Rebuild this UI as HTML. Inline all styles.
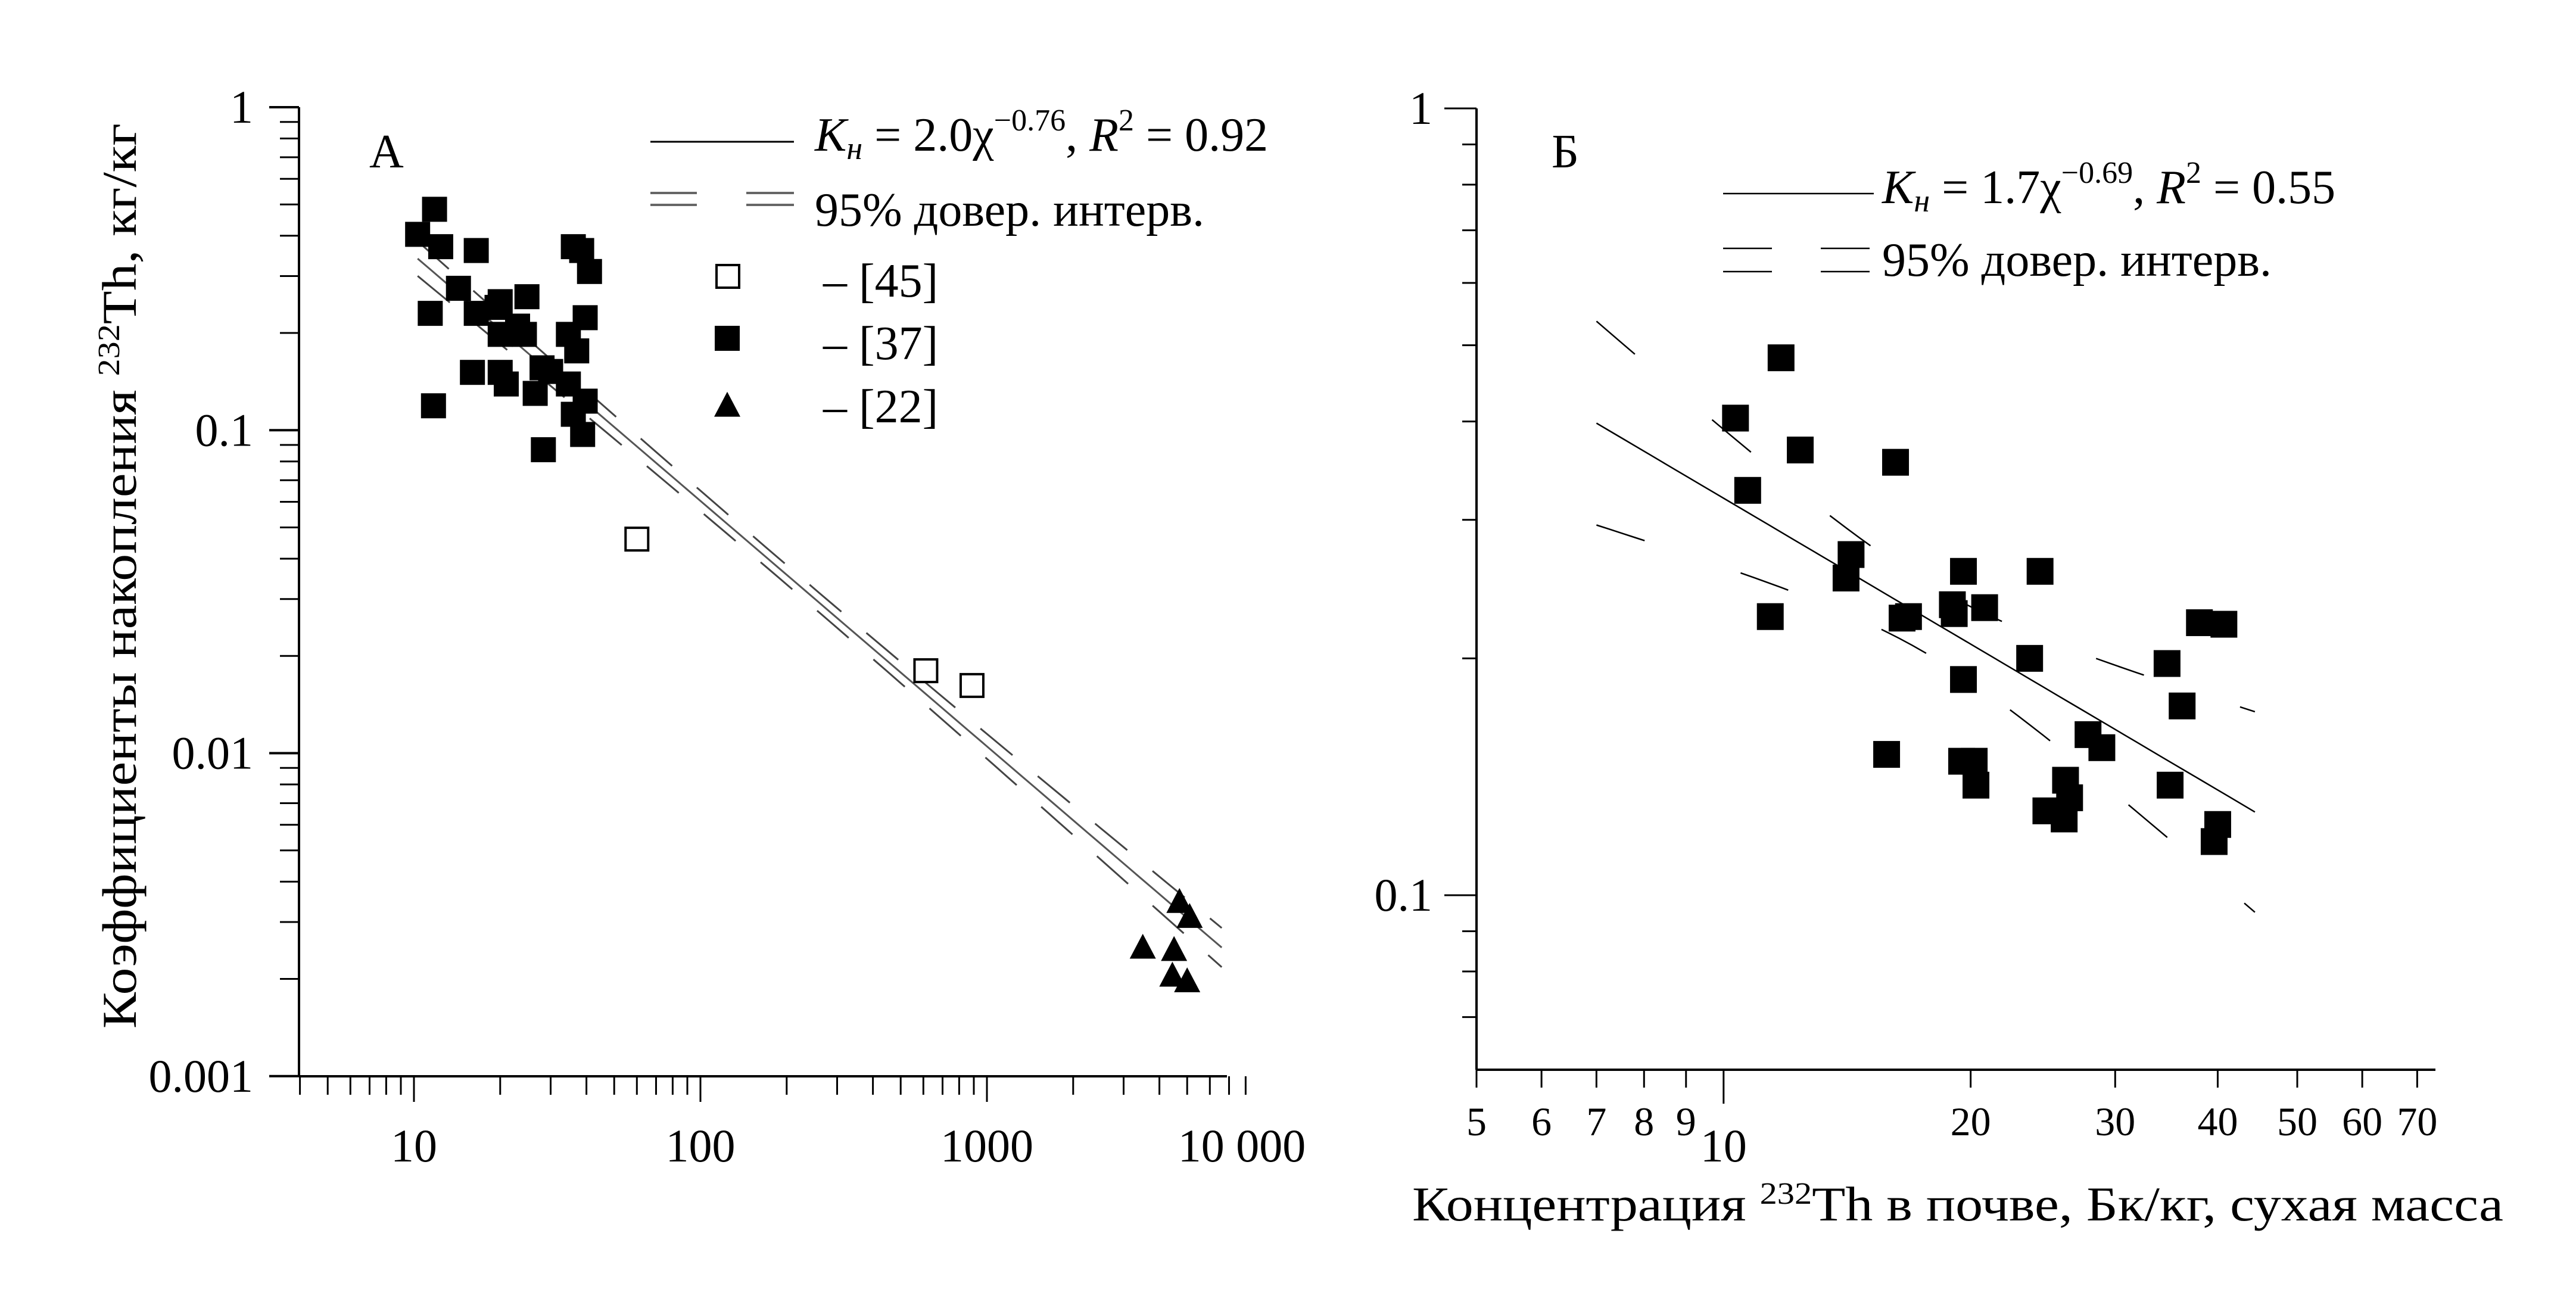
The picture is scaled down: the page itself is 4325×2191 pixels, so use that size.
<!DOCTYPE html>
<html><head><meta charset="utf-8"><style>
html,body{margin:0;padding:0;background:#fff}
svg{display:block}
text,tspan{font-family:"Liberation Serif",serif;fill:#000}
</style></head><body>
<svg id="fig" width="4325" height="2191" viewBox="0 0 4325 2191" xmlns="http://www.w3.org/2000/svg" font-family="Liberation Serif, serif">
<g id="pa"></g>
<g id="pb"></g>
</svg>
<script>
// Panel A data
const aSq37X = [10.3,11.8,12.4,11.4,11.7,14.3,16.5,16.5,16.0,20,20,20,21,24.8,24.3,26.5,28,28.3,30,36,38.5,41,39.6,34.6,37,34.6,39.6,36,38.8,23,19.5];
const aSq37Y = [0.404,0.483,0.37,0.23,0.119,0.275,0.36,0.23,0.151,0.25,0.198,0.151,0.139,0.259,0.198,0.13,0.156,0.087,0.152,0.37,0.36,0.31,0.223,0.198,0.176,0.139,0.123,0.112,0.097,0.21,0.24];
const aOpen45X = [60,612,887];
const aOpen45Y = [0.046,0.018,0.0162];
const aTri22X = [3500,4500,4440,5000,4700,5100];
const aTri22Y = [0.00249,0.00245,0.00204,0.00196,0.00345,0.0031];
const aFit = [2.0,-0.76];
const aXTickLabels = ["10","100","1000","10 000"];
const aXTickValues = [10,100,1000,10000];
const aYTickLabels = ["1","0.1","0.01","0.001"];
const aYTickValues = [1,0.1,0.01,0.001];
// Panel B data
const bX = [10.34,11.75,12.4,10.7,11.4,14.3,14.1,16.2,15.8,16.5,16.8,19.6,19.0,19.1,20.8,19.6,19.5,20.2,20.3,24.3,23.6,26.1,26.4,24.7,26.0,27.8,28.9,34.7,36.2,35.0,38.0,40.7,40.0,39.6];
const bY = [0.404,0.482,0.368,0.327,0.226,0.271,0.253,0.355,0.151,0.225,0.226,0.258,0.234,0.228,0.232,0.188,0.148,0.148,0.138,0.258,0.2,0.14,0.133,0.128,0.125,0.16,0.154,0.197,0.174,0.138,0.222,0.221,0.123,0.117];
const bFit = [1.32,-0.616];
const bXTickLabels = ["5","6","7","8","9","10","20","30","40","50","60","70"];
const bXTickValues = [5,6,7,8,9,10,20,30,40,50,60,70];
const bYTickLabels = ["1","0.1"];
const bYTickValues = [1,0.1];

const NS="http://www.w3.org/2000/svg";
function mk(parent,tag,attrs){const e=document.createElementNS(NS,tag);if(tag==='text')e.setAttribute('font-family','Liberation Serif, serif');for(const k in attrs)e.setAttribute(k,attrs[k]);parent.appendChild(e);return e;}
const L=Math.log10;

// ---------- Panel A ----------
const pa=document.getElementById('pa');
const AX=v=>695+(L(v)-1)*481;
const AY=v=>180-L(v)*542.25;
const aLeft=502,aBottom=1807,aRight=2060;
let e;
e=mk(pa,'line',{x1:aLeft,y1:180,x2:aLeft,y2:aBottom,stroke:'#000','stroke-width':4});


e=mk(pa,'line',{x1:aLeft,y1:aBottom,x2:aRight,y2:aBottom,stroke:'#000','stroke-width':4});


for(let d=-3;d<=0;d++){
  for(let m=1;m<=9;m++){
    const v=m*Math.pow(10,d); if(v>1.0001||(d===0&&m>1))continue;
    const y=AY(v);
    e=mk(pa,'line',{x1:m===1?452:470,y1:y,x2:aLeft,y2:y,stroke:'#000','stroke-width':m===1?4:3});
    
    
  }
}
for(let d=0;d<=3;d++){
  for(let m=1;m<=9;m++){
    const v=m*Math.pow(10,d); if(v<4||v>8600)continue;
    const x=AX(v);
    e=mk(pa,'line',{x1:x,y1:aBottom,x2:x,y2:m===1?1850:1838,stroke:'#000','stroke-width':3});
    
    
  }
}
aYTickValues.forEach((v,i)=>{
  e=mk(pa,'text',{x:425,y:AY(v)+26,'text-anchor':'end','font-size':78});
  e.textContent=aYTickLabels[i];
  
  
});
aXTickValues.forEach((v,i)=>{
  e=mk(pa,'text',{x:i===3?2085:AX(v),y:1950,'text-anchor':'middle','font-size':78});
  e.textContent=aXTickLabels[i];
  
  
});
e=mk(pa,'text',{x:0,y:0,transform:'translate(228,967) rotate(-90)','text-anchor':'middle','font-size':82,textLength:1520,lengthAdjust:'spacingAndGlyphs'});
e.innerHTML='Коэффициенты накопления <tspan dy="-28" font-size="52">232</tspan><tspan dy="28">Th, кг/кг</tspan>';


e=mk(pa,'text',{x:620,y:281,'font-size':80});e.textContent='A';



function pathFrom(xs,fx,fy){return xs.map((x,i)=>(i?'L':'M')+fx(x).toFixed(1)+' '+fy(x).toFixed(1)).join(' ');}
function range(a,b,n){const r=[];for(let i=0;i<=n;i++)r.push(Math.pow(10,L(a)+(L(b)-L(a))*i/n));return r;}
const aXs=range(10.3,6600,60);
const aFitF=x=>aFit[0]*Math.pow(x,aFit[1]);
const aD=x=>Math.sqrt(0.03*0.03+0.0012*Math.pow(L(x)-2.3,2));
e=mk(pa,'path',{d:pathFrom(aXs,AX,x=>AY(aFitF(x))),fill:'none',stroke:'#555','stroke-width':3});


[1,-1].forEach(s=>{
  e=mk(pa,'path',{d:pathFrom(aXs,AX,x=>AY(aFitF(x)*Math.pow(10,s*aD(x)))),fill:'none',stroke:'#444','stroke-width':3,'stroke-dasharray':'70 55'});
  
  
});
const S=42;
aSq37X.forEach((x,i)=>{
  e=mk(pa,'rect',{x:AX(x)-S/2,y:AY(aSq37Y[i])-S/2,width:S,height:S,fill:'#000'});
  
  
});
aOpen45X.forEach((x,i)=>{
  e=mk(pa,'rect',{x:AX(x)-19,y:AY(aOpen45Y[i])-19,width:38,height:38,fill:'#fff',stroke:'#000','stroke-width':4});
  
  
});
function tri(g,cx,cy,s){return mk(g,'polygon',{points:`${cx},${cy-s*0.55} ${cx-s/2},${cy+s*0.4} ${cx+s/2},${cy+s*0.4}`,fill:'#000'});}
aTri22X.forEach((x,i)=>{
  e=tri(pa,AX(x),AY(aTri22Y[i]),44);
  
  
});
// legend A
const lgA=mk(pa,'g',{});


e=mk(lgA,'line',{x1:1092,y1:238,x2:1333,y2:238,stroke:'#000','stroke-width':3});


e=mk(lgA,'text',{x:1368,y:253,'font-size':80});
e.innerHTML='<tspan font-style="italic">K</tspan><tspan font-style="italic" font-size="54" dy="14">н</tspan><tspan dy="-14"> = 2.0χ</tspan><tspan font-size="52" dy="-34">−0.76</tspan><tspan dy="34">, </tspan><tspan font-style="italic">R</tspan><tspan font-size="52" dy="-34">2</tspan><tspan dy="34"> = 0.92</tspan>';


[[1092,1170],[1253,1333]].forEach(s=>{[324,344].forEach(y=>{
  e=mk(lgA,'line',{x1:s[0],y1:y,x2:s[1],y2:y,stroke:'#666','stroke-width':4});
  
  
});});
e=mk(lgA,'text',{x:1368,y:379,'font-size':80});e.textContent='95% довер. интерв.';


e=mk(lgA,'rect',{x:1203,y:445,width:38,height:38,fill:'#fff',stroke:'#000','stroke-width':4});


e=mk(lgA,'rect',{x:1200,y:547,width:42,height:42,fill:'#000'});


e=tri(lgA,1221,682,44);


[['– [45]',498],['– [37]',603],['– [22]',709]].forEach(r=>{
  e=mk(lgA,'text',{x:1382,y:r[1],'font-size':80});e.textContent=r[0];
  
  
});

// ---------- Panel B ----------
const pb=document.getElementById('pb');
const BX=v=>2479+(L(v)-L(5))*1378;
const BY=v=>182-L(v)*1321;
const bLeft=2479,bBottom=1796,bRight=4089;
e=mk(pb,'line',{x1:bLeft,y1:182,x2:bLeft,y2:bBottom,stroke:'#000','stroke-width':4});


e=mk(pb,'line',{x1:bLeft,y1:bBottom,x2:bRight,y2:bBottom,stroke:'#000','stroke-width':4});


[1,0.9,0.8,0.7,0.6,0.5,0.4,0.3,0.2,0.1,0.09,0.08,0.07].forEach(v=>{
  const maj=(v===1||v===0.1);
  e=mk(pb,'line',{x1:maj?2425:2455,y1:BY(v),x2:bLeft,y2:BY(v),stroke:'#000','stroke-width':3});
  
  
});
bYTickValues.forEach((v,i)=>{
  e=mk(pb,'text',{x:2405,y:BY(v)+26,'text-anchor':'end','font-size':78});
  e.textContent=bYTickLabels[i];
  
  
});
bXTickValues.forEach((v,i)=>{
  e=mk(pb,'line',{x1:BX(v),y1:bBottom,x2:BX(v),y2:v===10?1853:1826,stroke:'#000','stroke-width':3});
  
  
  e=mk(pb,'text',{x:BX(v),y:v===10?1950:1906,'text-anchor':'middle','font-size':v===10?78:68});
  e.textContent=bXTickLabels[i];
  
  
});
e=mk(pb,'text',{x:2371,y:2049,'font-size':82,textLength:1832,lengthAdjust:'spacingAndGlyphs'});
e.innerHTML='Концентрация <tspan dy="-28" font-size="52">232</tspan><tspan dy="28">Th в почве, Бк/кг, сухая масса</tspan>';


e=mk(pb,'text',{x:2605,y:281,'font-size':80});e.textContent='Б';


const bXs=range(7,44.4,50);
const bFitF=x=>bFit[0]*Math.pow(x,bFit[1]);
const bD=x=>Math.sqrt(0.045*0.045+0.09*Math.pow(L(x)-1.25,2));
e=mk(pb,'path',{d:pathFrom(bXs,BX,x=>BY(bFitF(x))),fill:'none',stroke:'#000','stroke-width':2.5});


[1,-1].forEach(s=>{
  e=mk(pb,'path',{d:pathFrom(bXs,BX,x=>BY(bFitF(x)*Math.pow(10,s*bD(x)))),fill:'none',stroke:'#000','stroke-width':2.5,'stroke-dasharray':'85 170'});
  
  
});
const SB=45;
bX.forEach((x,i)=>{
  e=mk(pb,'rect',{x:BX(x)-SB/2,y:BY(bY[i])-SB/2,width:SB,height:SB,fill:'#000'});
  
  
});
const lgB=mk(pb,'g',{});


e=mk(lgB,'line',{x1:2893,y1:325,x2:3146,y2:325,stroke:'#000','stroke-width':2.5});


e=mk(lgB,'text',{x:3160,y:341,'font-size':80});
e.innerHTML='<tspan font-style="italic">K</tspan><tspan font-style="italic" font-size="54" dy="14">н</tspan><tspan dy="-14"> = 1.7χ</tspan><tspan font-size="52" dy="-34">−0.69</tspan><tspan dy="34">, </tspan><tspan font-style="italic">R</tspan><tspan font-size="52" dy="-34">2</tspan><tspan dy="34"> = 0.55</tspan>';


[[2893,2975],[3057,3139]].forEach(s=>{[417,456].forEach(y=>{
  e=mk(lgB,'line',{x1:s[0],y1:y,x2:s[1],y2:y,stroke:'#000','stroke-width':2.5});
  
  
});});
e=mk(lgB,'text',{x:3160,y:463,'font-size':80});e.textContent='95% довер. интерв.';


</script>
</body></html>
